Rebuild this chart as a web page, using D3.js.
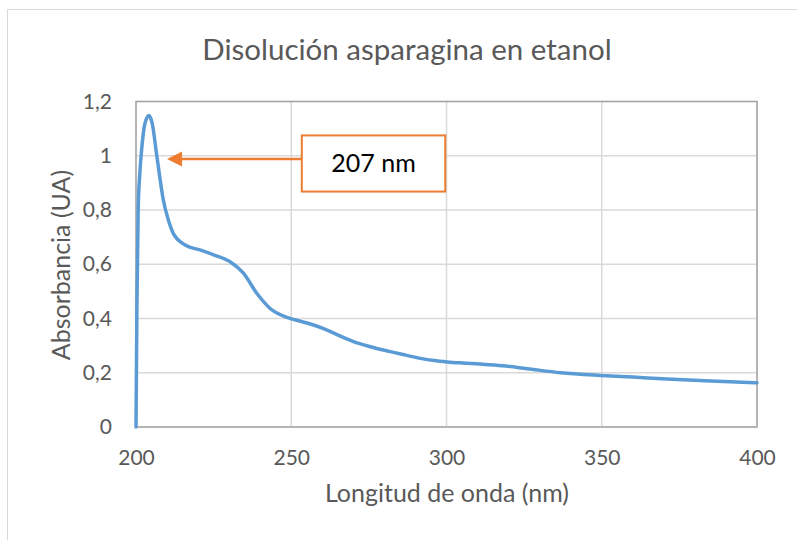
<!DOCTYPE html>
<html>
<head>
<meta charset="utf-8">
<script src="https://cdn.jsdelivr.net/npm/d3@7"></script>
<style>
  html, body { margin: 0; padding: 0; background: #fff; }
  svg { display: block; font-family: Lato, "Open Sans", sans-serif; }
</style>
</head>
<body>
<svg id="chart" width="797" height="540"></svg>
<script>
// ---- data ----
const wavelength = [200, 200.3, 200.7, 201.2, 201.8, 202.9, 204.2, 205.2, 206.7, 208.8, 210.5, 212, 216, 220.6, 225, 230.3, 234.6, 238.9, 243.2, 248.6, 253, 257.2, 261, 265.8, 270, 275.5, 281.9, 286, 291.6, 296, 300.2, 305, 311, 318, 326, 336.8, 349.7, 360, 371, 385, 400];
const absorbance = [0, 0.45, 0.8, 0.93, 1.02, 1.12, 1.148, 1.12, 1.0, 0.837, 0.76, 0.714, 0.67, 0.653, 0.635, 0.609, 0.567, 0.493, 0.437, 0.404, 0.39, 0.376, 0.36, 0.335, 0.315, 0.296, 0.278, 0.267, 0.253, 0.245, 0.24, 0.236, 0.232, 0.226, 0.215, 0.2, 0.19, 0.184, 0.177, 0.17, 0.163];
const xTicks = [200, 250, 300, 350, 400];
const yTicks = [0, 0.2, 0.4, 0.6, 0.8, 1, 1.2];
const titleText = "Disolución asparagina en etanol";
const xTitle = "Longitud de onda (nm)";
const yTitle = "Absorbancia (UA)";
const annotationText = "207 nm";
const arrowTip = [210, 0.988];      // data coords of arrow tip
const boxX = [253.4, 299.6];        // annotation box x-range (nm)
const boxY = [0.868, 1.075];        // annotation box y-range (UA)

// ---- layout ----
const svg = d3.select("#chart");
const pLeft = 136, pRight = 757, pTop = 101.5, pBottom = 427;
const x = d3.scaleLinear().domain([200, 400]).range([pLeft, pRight]);
const y = d3.scaleLinear().domain([0, 1.2]).range([pBottom, pTop]);
const textColor = "#595959";

// outer chart border
svg.append("rect").attr("x", 7.5).attr("y", 9.5).attr("width", 820).attr("height", 560)
  .attr("fill", "#fff").attr("stroke", "#d9d9d9").attr("stroke-width", 1);

// gridlines
svg.append("g").selectAll("line").data(yTicks).join("line")
  .attr("x1", pLeft).attr("x2", pRight)
  .attr("y1", d => y(d)).attr("y2", d => y(d))
  .attr("stroke", "#d9d9d9").attr("stroke-width", 1.5);
svg.append("g").selectAll("line").data(xTicks).join("line")
  .attr("y1", pTop).attr("y2", pBottom)
  .attr("x1", d => x(d)).attr("x2", d => x(d))
  .attr("stroke", "#d9d9d9").attr("stroke-width", 1.5);

// plot area border
svg.append("rect").attr("x", pLeft).attr("y", pTop).attr("width", pRight - pLeft).attr("height", pBottom - pTop)
  .attr("fill", "none").attr("stroke", "#a6a6a6").attr("stroke-width", 1.5);

// axes (labels only)
const xAxis = d3.axisBottom(x).tickValues(xTicks).tickSize(0).tickFormat(d3.format("d"));
const gx = svg.append("g").attr("transform", `translate(0,${pBottom})`).call(xAxis);
gx.select(".domain").remove();
gx.selectAll("text").attr("y", 38).attr("dy", null).attr("fill", textColor)
  .style("font-size", "21px").style("font-family", "Lato, sans-serif");

const yFmt = d => d3.format("~g")(d).replace(".", ",");
const yAxis = d3.axisLeft(y).tickValues(yTicks).tickSize(0).tickPadding(24).tickFormat(yFmt);
const gy = svg.append("g").attr("transform", `translate(${pLeft},0)`).call(yAxis);
gy.select(".domain").remove();
gy.selectAll("text").attr("fill", textColor).style("font-size", "21px").style("font-family", "Lato, sans-serif");

// line
const pts = wavelength.map((w, i) => [w, absorbance[i]]);
const line = d3.line().x(d => x(d[0])).y(d => y(d[1])).curve(d3.curveMonotoneX);
svg.append("path").datum(pts).attr("d", line)
  .attr("fill", "none").attr("stroke", "#5b9bd5").attr("stroke-width", 3.5)
  .attr("stroke-linejoin", "round").attr("stroke-linecap", "round");

// annotation arrow
const orange = "#ed7d31";
const ty = y(arrowTip[1]);
const tipX = x(arrowTip[0]);
const headLen = 15, headHalf = 7.5;
svg.append("line").attr("x1", x(boxX[0])).attr("x2", tipX + headLen - 1).attr("y1", ty).attr("y2", ty)
  .attr("stroke", orange).attr("stroke-width", 2.5);
svg.append("path")
  .attr("d", `M${tipX},${ty} L${tipX + headLen},${ty - headHalf} L${tipX + headLen},${ty + headHalf} Z`)
  .attr("fill", orange);

// annotation box
svg.append("rect")
  .attr("x", x(boxX[0])).attr("y", y(boxY[1]))
  .attr("width", x(boxX[1]) - x(boxX[0])).attr("height", y(boxY[0]) - y(boxY[1]))
  .attr("fill", "#fff").attr("stroke", orange).attr("stroke-width", 2);
svg.append("text")
  .attr("x", (x(boxX[0]) + x(boxX[1])) / 2).attr("y", (y(boxY[0]) + y(boxY[1])) / 2 + 9)
  .attr("text-anchor", "middle").attr("fill", "#000")
  .style("font-size", "25px").text(annotationText);

// titles
svg.append("text").attr("x", 407).attr("y", 60).attr("text-anchor", "middle")
  .attr("fill", textColor).style("font-size", "29.5px").text(titleText);
svg.append("text").attr("x", 447).attr("y", 502).attr("text-anchor", "middle")
  .attr("fill", textColor).style("font-size", "25px").text(xTitle);
svg.append("text").attr("transform", `translate(70,265) rotate(-90)`).attr("text-anchor", "middle")
  .attr("fill", textColor).style("font-size", "25px").text(yTitle);
</script>
</body>
</html>
